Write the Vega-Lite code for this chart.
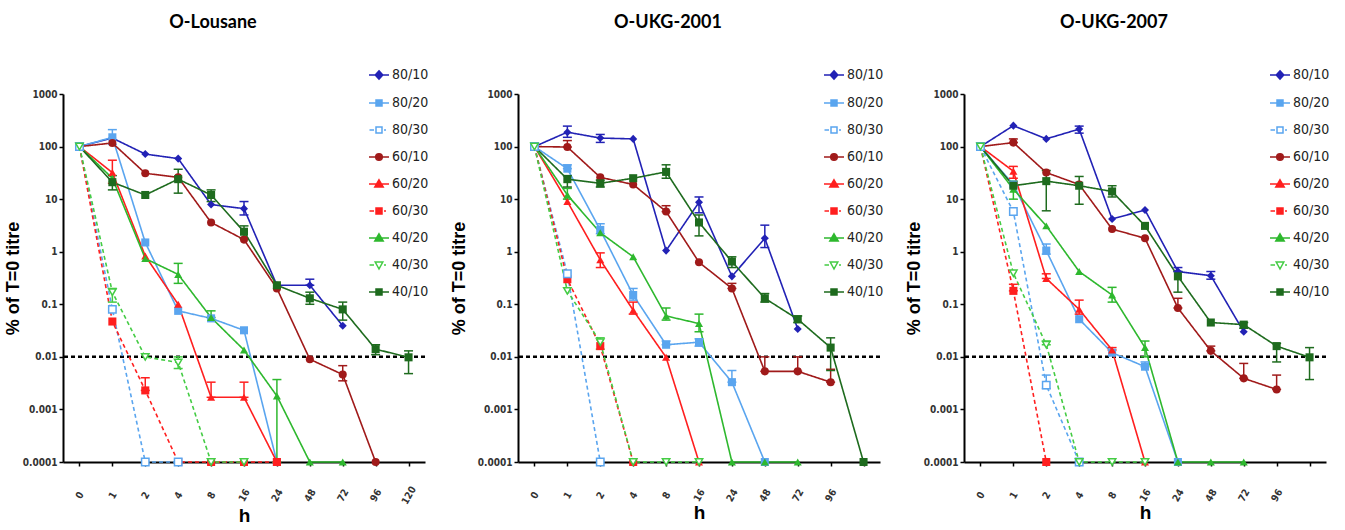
{
  "$schema": "https://vega.github.io/schema/vega-lite/v6.json",
  "padding": {"left": 4, "top": 14, "right": 0, "bottom": 0},
  "spacing": 21,
  "config": {
    "view": {"stroke": null},
    "axis": {"grid": false, "domainColor": "black", "domainWidth": 2, "tickColor": "black", "tickWidth": 1.5, "tickSize": 4, "labelColor": "#333", "labelFont": "'Liberation Sans Narrow', 'DejaVu Sans Condensed', 'Liberation Sans', sans-serif", "labelFontWeight": "bold", "titleFont": "'Liberation Sans', sans-serif", "titleFontWeight": "bold", "titleColor": "black"},
    "axisX": {"labelAngle": -60, "labelAlign": "center", "labelBaseline": "middle", "labelFontSize": 10, "labelPadding": 29, "titleFontSize": 19, "titlePadding": 1},
    "title": {"font": "Lato, 'Open Sans', sans-serif", "fontSize": 18, "fontWeight": "bold", "color": "black", "dx": -31, "offset": 32},
    "legend": {
      "orient": "none", "legendX": 305, "legendY": -30, "padding": 0, "symbolSize": 400, "symbolStrokeWidth": 1.5,
      "labelFont": "'Liberation Sans Narrow', 'DejaVu Sans Condensed', 'Liberation Sans', sans-serif", "labelFontSize": 14, "labelColor": "#222", "rowPadding": 9, "labelOffset": 2
    }
  },
  "resolve": {"scale": {"color": "independent", "fill": "independent", "stroke": "independent", "shape": "independent", "strokeDash": "independent"}, "legend": {"color": "independent"}},
  "data": {"values": [
    {"p":1,"s":"80/10","h":0,"v":100},{"p":1,"s":"80/10","h":1,"v":145},{"p":1,"s":"80/10","h":2,"v":72},{"p":1,"s":"80/10","h":4,"v":59},{"p":1,"s":"80/10","h":8,"v":7.9},{"p":1,"s":"80/10","h":16,"v":6.6,"lo":5,"hi":9},{"p":1,"s":"80/10","h":24,"v":0.23},{"p":1,"s":"80/10","h":48,"v":0.23,"lo":0.23,"hi":0.3},{"p":1,"s":"80/10","h":72,"v":0.039},
    {"p":1,"s":"80/20","h":0,"v":100},{"p":1,"s":"80/20","h":1,"v":150,"lo":110,"hi":210},{"p":1,"s":"80/20","h":2,"v":1.5},{"p":1,"s":"80/20","h":4,"v":0.075},{"p":1,"s":"80/20","h":8,"v":0.054},{"p":1,"s":"80/20","h":16,"v":0.032},{"p":1,"s":"80/20","h":24,"v":0.0001},
    {"p":1,"s":"80/30","h":0,"v":100},{"p":1,"s":"80/30","h":1,"v":0.08},{"p":1,"s":"80/30","h":2,"v":0.0001},{"p":1,"s":"80/30","h":4,"v":0.0001},
    {"p":1,"s":"60/10","h":0,"v":100},{"p":1,"s":"60/10","h":1,"v":117},{"p":1,"s":"60/10","h":2,"v":31},{"p":1,"s":"60/10","h":4,"v":26},{"p":1,"s":"60/10","h":8,"v":3.6},{"p":1,"s":"60/10","h":16,"v":1.7},{"p":1,"s":"60/10","h":24,"v":0.2},{"p":1,"s":"60/10","h":48,"v":0.009},{"p":1,"s":"60/10","h":72,"v":0.0046,"lo":0.0035,"hi":0.0068},{"p":1,"s":"60/10","h":96,"v":0.0001},
    {"p":1,"s":"60/20","h":0,"v":100},{"p":1,"s":"60/20","h":1,"v":32,"lo":20,"hi":55},{"p":1,"s":"60/20","h":2,"v":0.83},{"p":1,"s":"60/20","h":4,"v":0.1},{"p":1,"s":"60/20","h":8,"v":0.0017,"lo":0.0017,"hi":0.0033},{"p":1,"s":"60/20","h":16,"v":0.0017,"lo":0.0017,"hi":0.0033},{"p":1,"s":"60/20","h":24,"v":0.0001},
    {"p":1,"s":"60/30","h":0,"v":100},{"p":1,"s":"60/30","h":1,"v":0.047},{"p":1,"s":"60/30","h":2,"v":0.0023,"lo":0.0023,"hi":0.004},{"p":1,"s":"60/30","h":4,"v":0.0001},{"p":1,"s":"60/30","h":8,"v":0.0001},{"p":1,"s":"60/30","h":16,"v":0.0001},{"p":1,"s":"60/30","h":24,"v":0.0001},
    {"p":1,"s":"40/20","h":0,"v":100},{"p":1,"s":"40/20","h":1,"v":25},{"p":1,"s":"40/20","h":2,"v":0.74},{"p":1,"s":"40/20","h":4,"v":0.37,"lo":0.25,"hi":0.6},{"p":1,"s":"40/20","h":8,"v":0.056,"lo":0.056,"hi":0.075},{"p":1,"s":"40/20","h":16,"v":0.0135},{"p":1,"s":"40/20","h":24,"v":0.0018,"lo":0.0001,"hi":0.0037},{"p":1,"s":"40/20","h":48,"v":0.0001},{"p":1,"s":"40/20","h":72,"v":0.0001},
    {"p":1,"s":"40/30","h":0,"v":100},{"p":1,"s":"40/30","h":1,"v":0.17,"lo":0.11,"hi":0.2},{"p":1,"s":"40/30","h":2,"v":0.01},{"p":1,"s":"40/30","h":4,"v":0.0078,"lo":0.006,"hi":0.01},{"p":1,"s":"40/30","h":8,"v":0.0001},{"p":1,"s":"40/30","h":16,"v":0.0001},
    {"p":1,"s":"40/10","h":0,"v":100},{"p":1,"s":"40/10","h":1,"v":21,"lo":15,"hi":28},{"p":1,"s":"40/10","h":2,"v":12},{"p":1,"s":"40/10","h":4,"v":24,"lo":13,"hi":37},{"p":1,"s":"40/10","h":8,"v":12,"lo":9,"hi":15},{"p":1,"s":"40/10","h":16,"v":2.4,"lo":1.8,"hi":3.1},{"p":1,"s":"40/10","h":24,"v":0.23},{"p":1,"s":"40/10","h":48,"v":0.13,"lo":0.1,"hi":0.17},{"p":1,"s":"40/10","h":72,"v":0.08,"lo":0.05,"hi":0.11},{"p":1,"s":"40/10","h":96,"v":0.014,"lo":0.011,"hi":0.017},{"p":1,"s":"40/10","h":120,"v":0.0098,"lo":0.0048,"hi":0.013},

    {"p":2,"s":"80/10","h":0,"v":100},{"p":2,"s":"80/10","h":1,"v":188,"lo":150,"hi":245},{"p":2,"s":"80/10","h":2,"v":145,"lo":120,"hi":170},{"p":2,"s":"80/10","h":4,"v":140},{"p":2,"s":"80/10","h":8,"v":1.05},{"p":2,"s":"80/10","h":16,"v":8.7,"lo":5.5,"hi":11},{"p":2,"s":"80/10","h":24,"v":0.34},{"p":2,"s":"80/10","h":48,"v":1.8,"lo":1.2,"hi":3.2},{"p":2,"s":"80/10","h":72,"v":0.034},
    {"p":2,"s":"80/20","h":0,"v":100},{"p":2,"s":"80/20","h":1,"v":38,"lo":38,"hi":45},{"p":2,"s":"80/20","h":2,"v":2.6,"lo":2.2,"hi":3.4},{"p":2,"s":"80/20","h":4,"v":0.15,"lo":0.12,"hi":0.2},{"p":2,"s":"80/20","h":8,"v":0.017,"lo":0.017,"hi":0.02},{"p":2,"s":"80/20","h":16,"v":0.019,"lo":0.016,"hi":0.022},{"p":2,"s":"80/20","h":24,"v":0.0033,"lo":0.0033,"hi":0.0055},{"p":2,"s":"80/20","h":48,"v":0.0001},
    {"p":2,"s":"80/30","h":0,"v":100},{"p":2,"s":"80/30","h":1,"v":0.38},{"p":2,"s":"80/30","h":2,"v":0.0001},
    {"p":2,"s":"60/10","h":0,"v":100},{"p":2,"s":"60/10","h":1,"v":98,"lo":98,"hi":130},{"p":2,"s":"60/10","h":2,"v":26},{"p":2,"s":"60/10","h":4,"v":19},{"p":2,"s":"60/10","h":8,"v":5.8,"lo":5.8,"hi":7.5},{"p":2,"s":"60/10","h":16,"v":0.63},{"p":2,"s":"60/10","h":24,"v":0.2,"lo":0.2,"hi":0.25},{"p":2,"s":"60/10","h":48,"v":0.0053,"lo":0.0053,"hi":0.01},{"p":2,"s":"60/10","h":72,"v":0.0053,"lo":0.0053,"hi":0.01},{"p":2,"s":"60/10","h":96,"v":0.0033,"lo":0.0033,"hi":0.0058},
    {"p":2,"s":"60/20","h":0,"v":100},{"p":2,"s":"60/20","h":1,"v":9},{"p":2,"s":"60/20","h":2,"v":0.7,"lo":0.5,"hi":0.95},{"p":2,"s":"60/20","h":4,"v":0.077,"lo":0.065,"hi":0.11},{"p":2,"s":"60/20","h":8,"v":0.0098},{"p":2,"s":"60/20","h":16,"v":0.0001},
    {"p":2,"s":"60/30","h":0,"v":100},{"p":2,"s":"60/30","h":1,"v":0.3},{"p":2,"s":"60/30","h":2,"v":0.016},{"p":2,"s":"60/30","h":4,"v":0.0001},
    {"p":2,"s":"40/20","h":0,"v":100},{"p":2,"s":"40/20","h":1,"v":12,"lo":10,"hi":16},{"p":2,"s":"40/20","h":2,"v":2.3},{"p":2,"s":"40/20","h":4,"v":0.8},{"p":2,"s":"40/20","h":8,"v":0.06,"lo":0.05,"hi":0.085},{"p":2,"s":"40/20","h":16,"v":0.043,"lo":0.03,"hi":0.065},{"p":2,"s":"40/20","h":24,"v":0.0001},{"p":2,"s":"40/20","h":48,"v":0.0001},{"p":2,"s":"40/20","h":72,"v":0.0001},
    {"p":2,"s":"40/30","h":0,"v":100},{"p":2,"s":"40/30","h":1,"v":0.18},{"p":2,"s":"40/30","h":2,"v":0.019,"lo":0.014,"hi":0.023},{"p":2,"s":"40/30","h":4,"v":0.0001},{"p":2,"s":"40/30","h":8,"v":0.0001},{"p":2,"s":"40/30","h":16,"v":0.0001},
    {"p":2,"s":"40/10","h":0,"v":100},{"p":2,"s":"40/10","h":1,"v":24,"lo":17,"hi":28},{"p":2,"s":"40/10","h":2,"v":20,"lo":17,"hi":23},{"p":2,"s":"40/10","h":4,"v":25},{"p":2,"s":"40/10","h":8,"v":33,"lo":25,"hi":45},{"p":2,"s":"40/10","h":16,"v":3.6,"lo":2,"hi":5},{"p":2,"s":"40/10","h":24,"v":0.65,"lo":0.5,"hi":0.8},{"p":2,"s":"40/10","h":48,"v":0.13,"lo":0.11,"hi":0.16},{"p":2,"s":"40/10","h":72,"v":0.052,"lo":0.045,"hi":0.06},{"p":2,"s":"40/10","h":96,"v":0.015,"lo":0.0055,"hi":0.023},{"p":2,"s":"40/10","h":120,"v":0.0001},

    {"p":3,"s":"80/10","h":0,"v":100},{"p":3,"s":"80/10","h":1,"v":250},{"p":3,"s":"80/10","h":2,"v":140},{"p":3,"s":"80/10","h":4,"v":215,"lo":180,"hi":245},{"p":3,"s":"80/10","h":8,"v":4.2},{"p":3,"s":"80/10","h":16,"v":6.2},{"p":3,"s":"80/10","h":24,"v":0.42,"lo":0.42,"hi":0.5},{"p":3,"s":"80/10","h":48,"v":0.35,"lo":0.3,"hi":0.42},{"p":3,"s":"80/10","h":72,"v":0.03},
    {"p":3,"s":"80/20","h":0,"v":100},{"p":3,"s":"80/20","h":1,"v":19},{"p":3,"s":"80/20","h":2,"v":1.05,"lo":0.9,"hi":1.4},{"p":3,"s":"80/20","h":4,"v":0.052},{"p":3,"s":"80/20","h":8,"v":0.012},{"p":3,"s":"80/20","h":16,"v":0.0065,"lo":0.0065,"hi":0.008},{"p":3,"s":"80/20","h":24,"v":0.0001},
    {"p":3,"s":"80/30","h":0,"v":100},{"p":3,"s":"80/30","h":1,"v":5.8},{"p":3,"s":"80/30","h":2,"v":0.0029,"lo":0.0025,"hi":0.0045},{"p":3,"s":"80/30","h":4,"v":0.0001},
    {"p":3,"s":"60/10","h":0,"v":100},{"p":3,"s":"60/10","h":1,"v":119,"lo":119,"hi":140},{"p":3,"s":"60/10","h":2,"v":32},{"p":3,"s":"60/10","h":4,"v":19},{"p":3,"s":"60/10","h":8,"v":2.7},{"p":3,"s":"60/10","h":16,"v":1.8},{"p":3,"s":"60/10","h":24,"v":0.085,"lo":0.085,"hi":0.13},{"p":3,"s":"60/10","h":48,"v":0.013,"lo":0.013,"hi":0.016},{"p":3,"s":"60/10","h":72,"v":0.0039,"lo":0.0039,"hi":0.0075},{"p":3,"s":"60/10","h":96,"v":0.0024,"lo":0.0024,"hi":0.0045},
    {"p":3,"s":"60/20","h":0,"v":100},{"p":3,"s":"60/20","h":1,"v":34,"lo":25,"hi":42},{"p":3,"s":"60/20","h":2,"v":0.31,"lo":0.31,"hi":0.38},{"p":3,"s":"60/20","h":4,"v":0.08,"lo":0.065,"hi":0.12},{"p":3,"s":"60/20","h":8,"v":0.0135,"lo":0.0135,"hi":0.015},{"p":3,"s":"60/20","h":16,"v":0.0001},
    {"p":3,"s":"60/30","h":0,"v":100},{"p":3,"s":"60/30","h":1,"v":0.18,"lo":0.18,"hi":0.24},{"p":3,"s":"60/30","h":2,"v":0.0001},
    {"p":3,"s":"40/20","h":0,"v":100},{"p":3,"s":"40/20","h":1,"v":15.5,"lo":10,"hi":22},{"p":3,"s":"40/20","h":2,"v":3.1},{"p":3,"s":"40/20","h":4,"v":0.42},{"p":3,"s":"40/20","h":8,"v":0.15,"lo":0.11,"hi":0.21},{"p":3,"s":"40/20","h":16,"v":0.015,"lo":0.01,"hi":0.02},{"p":3,"s":"40/20","h":24,"v":0.0001},{"p":3,"s":"40/20","h":48,"v":0.0001},{"p":3,"s":"40/20","h":72,"v":0.0001},
    {"p":3,"s":"40/30","h":0,"v":100},{"p":3,"s":"40/30","h":1,"v":0.39},{"p":3,"s":"40/30","h":2,"v":0.017,"lo":0.017,"hi":0.02},{"p":3,"s":"40/30","h":4,"v":0.0001},{"p":3,"s":"40/30","h":8,"v":0.0001},{"p":3,"s":"40/30","h":16,"v":0.0001},
    {"p":3,"s":"40/10","h":0,"v":100},{"p":3,"s":"40/10","h":1,"v":18},{"p":3,"s":"40/10","h":2,"v":22,"lo":6,"hi":35},{"p":3,"s":"40/10","h":4,"v":18,"lo":8,"hi":27},{"p":3,"s":"40/10","h":8,"v":14,"lo":11,"hi":18},{"p":3,"s":"40/10","h":16,"v":3.1},{"p":3,"s":"40/10","h":24,"v":0.34,"lo":0.17,"hi":0.42},{"p":3,"s":"40/10","h":48,"v":0.045},{"p":3,"s":"40/10","h":72,"v":0.041,"lo":0.035,"hi":0.045},{"p":3,"s":"40/10","h":96,"v":0.016,"lo":0.008,"hi":0.018},{"p":3,"s":"40/10","h":120,"v":0.0098,"lo":0.0037,"hi":0.015}
  ]},
  "hconcat": [
    {
      "title": "O-Lousane",
      "width": 362, "height": 368,
      "layer": [
        {"data": {"values": [{"ref": 0.01}]}, "mark": {"type": "rule", "strokeDash": [4, 3], "strokeWidth": 2.5, "color": "black"},
         "encoding": {"y": {"field": "ref", "type": "quantitative"}}},
        {"transform": [{"filter": "datum.p === 1"}], "mark": {"type": "line", "strokeWidth": 1.6},
         "encoding": {
           "x": {"field": "h", "type": "ordinal", "scale": {"type": "point", "domain": [0,1,2,4,8,16,24,48,72,96,120], "padding": 0.5}, "axis": {"title": "h"}},
           "y": {"field": "v", "type": "quantitative", "scale": {"type": "log", "domain": [0.0001, 1000], "nice": false}, "axis": {"title": "% of T=0 titre", "values": [0.0001,0.001,0.01,0.1,1,10,100,1000], "labelExpr": "format(datum.value, '~g')", "labelFontSize": 10, "titleFontSize": 18, "titlePadding": 0}},
           "color": {"field": "s", "type": "nominal", "scale": {"domain": ["80/10","80/20","80/30","60/10","60/20","60/30","40/20","40/30","40/10"], "range": ["#2222b5","#5aa5ef","#5aa5ef","#a01a1a","#ff1f1f","#ff1f1f","#2eb82e","#44cc44","#1e6b1e"]},
             "legend": {"title": null, "encode": {"symbols": {"update": {
               "shape": {"signal": "{'80/10':'M-1,0L1,0M0,-0.42L0.38,0L0,0.42L-0.38,0Z','80/20':'M-1,0L1,0M-0.3,-0.3L0.3,-0.3L0.3,0.3L-0.3,0.3Z','80/30':'M-0.95,0L-0.5,0M0.5,0L0.7,0M-0.3,-0.3L0.3,-0.3L0.3,0.3L-0.3,0.3Z','60/10':'M-1,0L1,0M0.33,0A0.33,0.33,0,1,1,-0.33,0A0.33,0.33,0,1,1,0.33,0Z','60/20':'M-1,0L1,0M0,-0.42L0.42,0.3L-0.42,0.3Z','60/30':'M-0.95,0L-0.5,0M0.5,0L0.7,0M-0.3,-0.3L0.3,-0.3L0.3,0.3L-0.3,0.3Z','40/20':'M-1,0L1,0M0,-0.42L0.42,0.3L-0.42,0.3Z','40/30':'M-0.95,0L-0.5,0M0.5,0L0.7,0M-0.38,-0.3L0.38,-0.3L0,0.4Z','40/10':'M-1,0L1,0M-0.3,-0.3L0.3,-0.3L0.3,0.3L-0.3,0.3Z'}[datum.value]"},
               "fill": {"signal": "(datum.value === '80/30' || datum.value === '40/30') ? 'white' : {'80/10':'#2222b5','80/20':'#5aa5ef','80/30':'#5aa5ef','60/10':'#a01a1a','60/20':'#ff1f1f','60/30':'#ff1f1f','40/20':'#2eb82e','40/30':'#44cc44','40/10':'#1e6b1e'}[datum.value]"},
               "strokeWidth": {"value": 1.5}, "opacity": {"value": 1}}}}}},
           "strokeDash": {"field": "s", "type": "nominal", "scale": {"domain": ["40/10","40/30","40/20","60/30","60/20","60/10","80/30","80/20","80/10"], "range": [[1,0],[4,3],[1,0],[4,3],[1,0],[1,0],[4,3],[1,0],[1,0]]}, "legend": null}
         }},
        {"transform": [{"filter": "datum.p === 1 && isValid(datum.hi)"}], "mark": {"type": "rule", "strokeWidth": 1.5},
         "encoding": {"x": {"field": "h", "type": "ordinal"}, "y": {"field": "lo", "type": "quantitative"}, "y2": {"field": "hi"}, "color": {"field": "s", "type": "nominal"}}},
        {"transform": [{"filter": "datum.p === 1 && isValid(datum.hi)"}], "mark": {"type": "tick", "size": 9, "thickness": 1.5, "opacity": 1},
         "encoding": {"x": {"field": "h", "type": "ordinal"}, "y": {"field": "hi", "type": "quantitative"}, "fill": {"field": "s", "type": "nominal", "scale": {"domain": ["40/10","40/30","40/20","60/30","60/20","60/10","80/30","80/20","80/10"], "range": ["#1e6b1e","#44cc44","#2eb82e","#ff1f1f","#ff1f1f","#a01a1a","#5aa5ef","#5aa5ef","#2222b5"]}, "legend": null}}},
        {"transform": [{"filter": "datum.p === 1 && isValid(datum.lo)"}], "mark": {"type": "tick", "size": 9, "thickness": 1.5, "opacity": 1},
         "encoding": {"x": {"field": "h", "type": "ordinal"}, "y": {"field": "lo", "type": "quantitative"}, "fill": {"field": "s", "type": "nominal", "legend": null}}},
        {"transform": [{"filter": "datum.p === 1 && datum.s !== '80/30' && datum.s !== '40/30'"}], "mark": {"type": "point", "filled": true, "size": 65, "opacity": 1},
         "encoding": {"x": {"field": "h", "type": "ordinal"}, "y": {"field": "v", "type": "quantitative"}, "fill": {"field": "s", "type": "nominal", "legend": null},
           "shape": {"field": "s", "type": "nominal", "scale": {"domain": ["40/10","40/30","40/20","60/30","60/20","60/10","80/30","80/20","80/10"], "range": ["square","triangle-down","triangle-up","square","triangle-up","circle","square","square","diamond"]}, "legend": null}}},
        {"transform": [{"filter": "datum.p === 1 && (datum.s === '80/30' || datum.s === '40/30')"}], "mark": {"type": "point", "filled": false, "fill": "white", "strokeWidth": 1.5, "size": 55, "opacity": 1},
         "encoding": {"x": {"field": "h", "type": "ordinal"}, "y": {"field": "v", "type": "quantitative"}, "stroke": {"field": "s", "type": "nominal", "scale": {"domain": ["40/10","40/30","40/20","60/30","60/20","60/10","80/30","80/20","80/10"], "range": ["#1e6b1e","#44cc44","#2eb82e","#ff1f1f","#ff1f1f","#a01a1a","#5aa5ef","#5aa5ef","#2222b5"]}, "legend": null},
           "shape": {"field": "s", "type": "nominal", "legend": null}}}
      ]
    },
    {
      "title": "O-UKG-2001",
      "width": 362, "height": 368,
      "layer": [
        {"data": {"values": [{"ref": 0.01}]}, "mark": {"type": "rule", "strokeDash": [4, 3], "strokeWidth": 2.5, "color": "black"},
         "encoding": {"y": {"field": "ref", "type": "quantitative"}}},
        {"transform": [{"filter": "datum.p === 2"}], "mark": {"type": "line", "strokeWidth": 1.6},
         "encoding": {
           "x": {"field": "h", "type": "ordinal", "scale": {"type": "point", "domain": [0,1,2,4,8,16,24,48,72,96,120], "padding": 0.5}, "axis": {"title": "h", "labelExpr": "datum.value == 120 ? '' : datum.label"}},
           "y": {"field": "v", "type": "quantitative", "scale": {"type": "log", "domain": [0.0001, 1000], "nice": false}, "axis": {"title": "% of T=0 titre", "values": [0.0001,0.001,0.01,0.1,1,10,100,1000], "labelExpr": "format(datum.value, '~g')", "labelFontSize": 10, "titleFontSize": 18, "titlePadding": 9}},
           "color": {"field": "s", "type": "nominal", "scale": {"domain": ["80/10","80/20","80/30","60/10","60/20","60/30","40/20","40/30","40/10"], "range": ["#2222b5","#5aa5ef","#5aa5ef","#a01a1a","#ff1f1f","#ff1f1f","#2eb82e","#44cc44","#1e6b1e"]},
             "legend": {"title": null, "encode": {"symbols": {"update": {
               "shape": {"signal": "{'80/10':'M-1,0L1,0M0,-0.42L0.38,0L0,0.42L-0.38,0Z','80/20':'M-1,0L1,0M-0.3,-0.3L0.3,-0.3L0.3,0.3L-0.3,0.3Z','80/30':'M-0.95,0L-0.5,0M0.5,0L0.7,0M-0.3,-0.3L0.3,-0.3L0.3,0.3L-0.3,0.3Z','60/10':'M-1,0L1,0M0.33,0A0.33,0.33,0,1,1,-0.33,0A0.33,0.33,0,1,1,0.33,0Z','60/20':'M-1,0L1,0M0,-0.42L0.42,0.3L-0.42,0.3Z','60/30':'M-0.95,0L-0.5,0M0.5,0L0.7,0M-0.3,-0.3L0.3,-0.3L0.3,0.3L-0.3,0.3Z','40/20':'M-1,0L1,0M0,-0.42L0.42,0.3L-0.42,0.3Z','40/30':'M-0.95,0L-0.5,0M0.5,0L0.7,0M-0.38,-0.3L0.38,-0.3L0,0.4Z','40/10':'M-1,0L1,0M-0.3,-0.3L0.3,-0.3L0.3,0.3L-0.3,0.3Z'}[datum.value]"},
               "fill": {"signal": "(datum.value === '80/30' || datum.value === '40/30') ? 'white' : {'80/10':'#2222b5','80/20':'#5aa5ef','80/30':'#5aa5ef','60/10':'#a01a1a','60/20':'#ff1f1f','60/30':'#ff1f1f','40/20':'#2eb82e','40/30':'#44cc44','40/10':'#1e6b1e'}[datum.value]"},
               "strokeWidth": {"value": 1.5}, "opacity": {"value": 1}}}}}},
           "strokeDash": {"field": "s", "type": "nominal", "scale": {"domain": ["40/10","40/30","40/20","60/30","60/20","60/10","80/30","80/20","80/10"], "range": [[1,0],[4,3],[1,0],[4,3],[1,0],[1,0],[4,3],[1,0],[1,0]]}, "legend": null}
         }},
        {"transform": [{"filter": "datum.p === 2 && isValid(datum.hi)"}], "mark": {"type": "rule", "strokeWidth": 1.5},
         "encoding": {"x": {"field": "h", "type": "ordinal"}, "y": {"field": "lo", "type": "quantitative"}, "y2": {"field": "hi"}, "color": {"field": "s", "type": "nominal"}}},
        {"transform": [{"filter": "datum.p === 2 && isValid(datum.hi)"}], "mark": {"type": "tick", "size": 9, "thickness": 1.5, "opacity": 1},
         "encoding": {"x": {"field": "h", "type": "ordinal"}, "y": {"field": "hi", "type": "quantitative"}, "fill": {"field": "s", "type": "nominal", "scale": {"domain": ["40/10","40/30","40/20","60/30","60/20","60/10","80/30","80/20","80/10"], "range": ["#1e6b1e","#44cc44","#2eb82e","#ff1f1f","#ff1f1f","#a01a1a","#5aa5ef","#5aa5ef","#2222b5"]}, "legend": null}}},
        {"transform": [{"filter": "datum.p === 2 && isValid(datum.lo)"}], "mark": {"type": "tick", "size": 9, "thickness": 1.5, "opacity": 1},
         "encoding": {"x": {"field": "h", "type": "ordinal"}, "y": {"field": "lo", "type": "quantitative"}, "fill": {"field": "s", "type": "nominal", "legend": null}}},
        {"transform": [{"filter": "datum.p === 2 && datum.s !== '80/30' && datum.s !== '40/30'"}], "mark": {"type": "point", "filled": true, "size": 65, "opacity": 1},
         "encoding": {"x": {"field": "h", "type": "ordinal"}, "y": {"field": "v", "type": "quantitative"}, "fill": {"field": "s", "type": "nominal", "legend": null},
           "shape": {"field": "s", "type": "nominal", "scale": {"domain": ["40/10","40/30","40/20","60/30","60/20","60/10","80/30","80/20","80/10"], "range": ["square","triangle-down","triangle-up","square","triangle-up","circle","square","square","diamond"]}, "legend": null}}},
        {"transform": [{"filter": "datum.p === 2 && (datum.s === '80/30' || datum.s === '40/30')"}], "mark": {"type": "point", "filled": false, "fill": "white", "strokeWidth": 1.5, "size": 55, "opacity": 1},
         "encoding": {"x": {"field": "h", "type": "ordinal"}, "y": {"field": "v", "type": "quantitative"}, "stroke": {"field": "s", "type": "nominal", "scale": {"domain": ["40/10","40/30","40/20","60/30","60/20","60/10","80/30","80/20","80/10"], "range": ["#1e6b1e","#44cc44","#2eb82e","#ff1f1f","#ff1f1f","#a01a1a","#5aa5ef","#5aa5ef","#2222b5"]}, "legend": null},
           "shape": {"field": "s", "type": "nominal", "legend": null}}}
      ]
    },
    {
      "title": "O-UKG-2007",
      "width": 362, "height": 368,
      "layer": [
        {"data": {"values": [{"ref": 0.01}]}, "mark": {"type": "rule", "strokeDash": [4, 3], "strokeWidth": 2.5, "color": "black"},
         "encoding": {"y": {"field": "ref", "type": "quantitative"}}},
        {"transform": [{"filter": "datum.p === 3"}], "mark": {"type": "line", "strokeWidth": 1.6},
         "encoding": {
           "x": {"field": "h", "type": "ordinal", "scale": {"type": "point", "domain": [0,1,2,4,8,16,24,48,72,96,120], "padding": 0.5}, "axis": {"title": "h", "labelExpr": "datum.value == 120 ? '' : datum.label"}},
           "y": {"field": "v", "type": "quantitative", "scale": {"type": "log", "domain": [0.0001, 1000], "nice": false}, "axis": {"title": "% of T=0 titre", "values": [0.0001,0.001,0.01,0.1,1,10,100,1000], "labelExpr": "format(datum.value, '~g')", "labelFontSize": 10, "titleFontSize": 18, "titlePadding": 0}},
           "color": {"field": "s", "type": "nominal", "scale": {"domain": ["80/10","80/20","80/30","60/10","60/20","60/30","40/20","40/30","40/10"], "range": ["#2222b5","#5aa5ef","#5aa5ef","#a01a1a","#ff1f1f","#ff1f1f","#2eb82e","#44cc44","#1e6b1e"]},
             "legend": {"title": null, "encode": {"symbols": {"update": {
               "shape": {"signal": "{'80/10':'M-1,0L1,0M0,-0.42L0.38,0L0,0.42L-0.38,0Z','80/20':'M-1,0L1,0M-0.3,-0.3L0.3,-0.3L0.3,0.3L-0.3,0.3Z','80/30':'M-0.95,0L-0.5,0M0.5,0L0.7,0M-0.3,-0.3L0.3,-0.3L0.3,0.3L-0.3,0.3Z','60/10':'M-1,0L1,0M0.33,0A0.33,0.33,0,1,1,-0.33,0A0.33,0.33,0,1,1,0.33,0Z','60/20':'M-1,0L1,0M0,-0.42L0.42,0.3L-0.42,0.3Z','60/30':'M-0.95,0L-0.5,0M0.5,0L0.7,0M-0.3,-0.3L0.3,-0.3L0.3,0.3L-0.3,0.3Z','40/20':'M-1,0L1,0M0,-0.42L0.42,0.3L-0.42,0.3Z','40/30':'M-0.95,0L-0.5,0M0.5,0L0.7,0M-0.38,-0.3L0.38,-0.3L0,0.4Z','40/10':'M-1,0L1,0M-0.3,-0.3L0.3,-0.3L0.3,0.3L-0.3,0.3Z'}[datum.value]"},
               "fill": {"signal": "(datum.value === '80/30' || datum.value === '40/30') ? 'white' : {'80/10':'#2222b5','80/20':'#5aa5ef','80/30':'#5aa5ef','60/10':'#a01a1a','60/20':'#ff1f1f','60/30':'#ff1f1f','40/20':'#2eb82e','40/30':'#44cc44','40/10':'#1e6b1e'}[datum.value]"},
               "strokeWidth": {"value": 1.5}, "opacity": {"value": 1}}}}}},
           "strokeDash": {"field": "s", "type": "nominal", "scale": {"domain": ["40/10","40/30","40/20","60/30","60/20","60/10","80/30","80/20","80/10"], "range": [[1,0],[4,3],[1,0],[4,3],[1,0],[1,0],[4,3],[1,0],[1,0]]}, "legend": null}
         }},
        {"transform": [{"filter": "datum.p === 3 && isValid(datum.hi)"}], "mark": {"type": "rule", "strokeWidth": 1.5},
         "encoding": {"x": {"field": "h", "type": "ordinal"}, "y": {"field": "lo", "type": "quantitative"}, "y2": {"field": "hi"}, "color": {"field": "s", "type": "nominal"}}},
        {"transform": [{"filter": "datum.p === 3 && isValid(datum.hi)"}], "mark": {"type": "tick", "size": 9, "thickness": 1.5, "opacity": 1},
         "encoding": {"x": {"field": "h", "type": "ordinal"}, "y": {"field": "hi", "type": "quantitative"}, "fill": {"field": "s", "type": "nominal", "scale": {"domain": ["40/10","40/30","40/20","60/30","60/20","60/10","80/30","80/20","80/10"], "range": ["#1e6b1e","#44cc44","#2eb82e","#ff1f1f","#ff1f1f","#a01a1a","#5aa5ef","#5aa5ef","#2222b5"]}, "legend": null}}},
        {"transform": [{"filter": "datum.p === 3 && isValid(datum.lo)"}], "mark": {"type": "tick", "size": 9, "thickness": 1.5, "opacity": 1},
         "encoding": {"x": {"field": "h", "type": "ordinal"}, "y": {"field": "lo", "type": "quantitative"}, "fill": {"field": "s", "type": "nominal", "legend": null}}},
        {"transform": [{"filter": "datum.p === 3 && datum.s !== '80/30' && datum.s !== '40/30'"}], "mark": {"type": "point", "filled": true, "size": 65, "opacity": 1},
         "encoding": {"x": {"field": "h", "type": "ordinal"}, "y": {"field": "v", "type": "quantitative"}, "fill": {"field": "s", "type": "nominal", "legend": null},
           "shape": {"field": "s", "type": "nominal", "scale": {"domain": ["40/10","40/30","40/20","60/30","60/20","60/10","80/30","80/20","80/10"], "range": ["square","triangle-down","triangle-up","square","triangle-up","circle","square","square","diamond"]}, "legend": null}}},
        {"transform": [{"filter": "datum.p === 3 && (datum.s === '80/30' || datum.s === '40/30')"}], "mark": {"type": "point", "filled": false, "fill": "white", "strokeWidth": 1.5, "size": 55, "opacity": 1},
         "encoding": {"x": {"field": "h", "type": "ordinal"}, "y": {"field": "v", "type": "quantitative"}, "stroke": {"field": "s", "type": "nominal", "scale": {"domain": ["40/10","40/30","40/20","60/30","60/20","60/10","80/30","80/20","80/10"], "range": ["#1e6b1e","#44cc44","#2eb82e","#ff1f1f","#ff1f1f","#a01a1a","#5aa5ef","#5aa5ef","#2222b5"]}, "legend": null},
           "shape": {"field": "s", "type": "nominal", "legend": null}}}
      ]
    }
  ]
}
